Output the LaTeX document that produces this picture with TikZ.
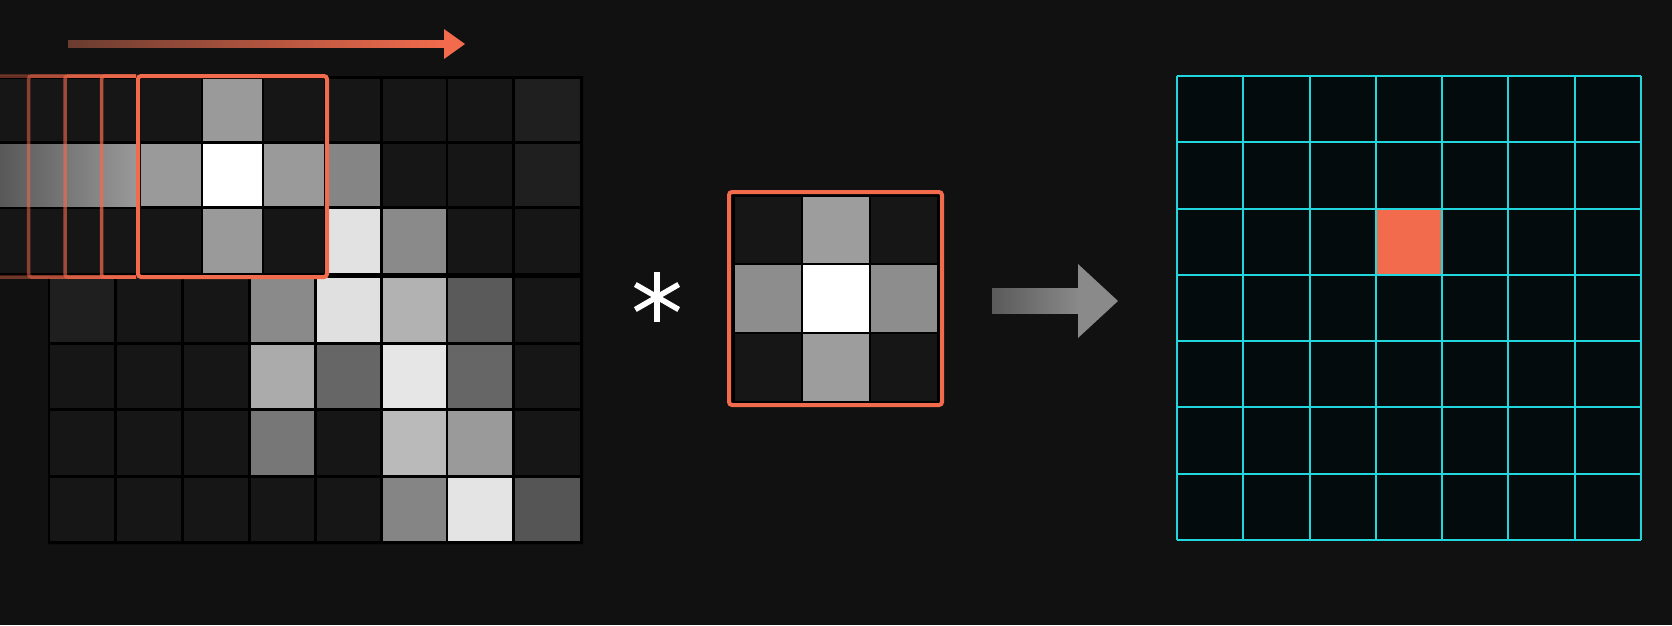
\documentclass[tikz,border=0pt]{standalone}
\usetikzlibrary{arrows.meta}
\definecolor{bg}{HTML}{111111}
\definecolor{cellD}{HTML}{161616}
\definecolor{cellM}{HTML}{1F1F1F}
\definecolor{org}{HTML}{F36B4D}
\definecolor{orgdim}{HTML}{6A3C30}
\definecolor{cyn}{HTML}{22D6DE}
\definecolor{tealD}{HTML}{030B0D}
\definecolor{arrL}{HTML}{5A5A5A}
\definecolor{arrR}{HTML}{8A8A8A}
\definecolor{bandL}{HTML}{585858}
\definecolor{bandR}{HTML}{9A9A9A}
\tikzset{
  kframe/.style={draw=org, line width=4pt, rounded corners=3pt},
  ghost/.style={draw=org, line width=3.5pt, rounded corners=3pt},
  gridline/.style={draw=cyn, line width=2pt},
}
\begin{document}
\begin{tikzpicture}[x=1pt,y=-1pt]
\fill[bg] (0,0) rectangle (1672,625);
\useasboundingbox (0,0) rectangle (1672,625);

% ---------- input image grid ----------
\fill[black] (0,76) -- (583,76) -- (583,544) -- (48,544) -- (48,276) -- (0,276) -- cycle;

% left extension of top rows (under sliding window trail)
\fill[cellD] (0,79) rectangle (139,141);
\shade[left color=bandL, right color=bandR] (0,144) rectangle (139,206);
\fill[cellD] (0,209) rectangle (139,273);

% top three rows, window columns
\foreach \ya/\yb/\ca/\cb/\cc in {79/141/cellD/bandR/cellD, 144/206/bandR/white/bandR, 209/273/cellD/bandR/cellD}{
  \fill[\ca] (141,\ya) rectangle (201,\yb);
  \fill[\cb] (203,\ya) rectangle (262,\yb);
  \fill[\cc] (264,\ya) rectangle (324,\yb);
}
% top three rows, right columns
\definecolor{g85}{HTML}{858585}
\definecolor{gE2}{HTML}{E2E2E2}
\definecolor{g8A}{HTML}{8A8A8A}
\foreach \ya/\yb/\ca/\cb/\cc/\cd in {79/141/cellD/cellD/cellD/cellM, 144/206/g85/cellD/cellD/cellM, 209/273/gE2/g8A/cellD/cellD}{
  \fill[\ca] (328,\ya) rectangle (380,\yb);
  \fill[\cb] (383,\ya) rectangle (446,\yb);
  \fill[\cc] (448,\ya) rectangle (512,\yb);
  \fill[\cd] (515,\ya) rectangle (580,\yb);
}

% bottom four rows
\definecolor{gB2}{HTML}{B2B2B2}
\definecolor{g5A}{HTML}{5A5A5A}
\definecolor{gAB}{HTML}{ABABAB}
\definecolor{g66}{HTML}{666666}
\definecolor{gE6}{HTML}{E6E6E6}
\definecolor{g77}{HTML}{777777}
\definecolor{gBA}{HTML}{BABABA}
\definecolor{g9A}{HTML}{9A9A9A}
\definecolor{gE4}{HTML}{E4E4E4}
\definecolor{g55}{HTML}{555555}
\definecolor{gE0}{HTML}{E0E0E0}
\foreach \ya/\yb/\ca/\cb/\cc/\cd/\ce/\cf/\cg/\ch in {
  278/342/cellM/cellD/cellD/g8A/gE0/gB2/g5A/cellD,
  345/408/cellD/cellD/cellD/gAB/g66/gE6/g66/cellD,
  411/475/cellD/cellD/cellD/g77/cellD/gBA/g9A/cellD,
  478/541/cellD/cellD/cellD/cellD/cellD/g85/gE4/g55}{
  \fill[\ca] (50,\ya) rectangle (114,\yb);
  \fill[\cb] (117,\ya) rectangle (181,\yb);
  \fill[\cc] (184,\ya) rectangle (248,\yb);
  \fill[\cd] (251,\ya) rectangle (314,\yb);
  \fill[\ce] (317,\ya) rectangle (380,\yb);
  \fill[\cf] (383,\ya) rectangle (446,\yb);
  \fill[\cg] (448,\ya) rectangle (512,\yb);
  \fill[\ch] (515,\ya) rectangle (580,\yb);
}

% sliding-window trail
\begin{scope}
  \clip (0,0) rectangle (136,300);
  \foreach \k/\o in {1/0.72,2/0.62,3/0.52,4/0.42}{
    \draw[ghost, opacity=\o] (138-36.5*\k,76) rectangle ++(189,201);
  }
\end{scope}
\draw[kframe] (138,76) rectangle (327,277);

% sliding direction arrow
\shade[left color=orgdim, right color=org] (68,40.5) rectangle (446,47.5);
\fill[org] (444,29) -- (465,44) -- (444,59) -- cycle;

% ---------- convolution operator ----------
\foreach \a in {90,30,150}{
  \draw[white, line width=5.5pt, shift={(657,297)}] (\a:25) -- (\a+180:25);
}

% ---------- kernel ----------
\definecolor{gKe}{HTML}{9D9D9D}
\definecolor{gKs}{HTML}{8D8D8D}
\fill[black] (729,192) rectangle (942,405);
\foreach \ya/\yb/\ca/\cb/\cc in {197/263/cellD/gKe/cellD, 265/332/gKs/white/gKs, 334/401/cellD/gKe/cellD}{
  \fill[\ca] (735,\ya) rectangle (801,\yb);
  \fill[\cb] (803,\ya) rectangle (869,\yb);
  \fill[\cc] (871,\ya) rectangle (937,\yb);
}
\draw[kframe] (729,192) rectangle (942,405);

% ---------- result arrow ----------
\shade[left color=arrL, right color=arrR] (992,288) rectangle (1080,313);
\fill[arrR] (1078,264) -- (1118,301) -- (1078,338) -- cycle;

% ---------- output feature map ----------
\fill[tealD] (1177,76) rectangle (1641,540);
\fill[org] (1177+3*66.29,76+2*66.29) rectangle ++(66.29,66.29);
\foreach \i in {0,...,7}{
  \draw[gridline] (1177+\i*66.29,76) -- (1177+\i*66.29,540);
  \draw[gridline] (1177,76+\i*66.29) -- (1641,76+\i*66.29);
}
\end{tikzpicture}
\end{document}
